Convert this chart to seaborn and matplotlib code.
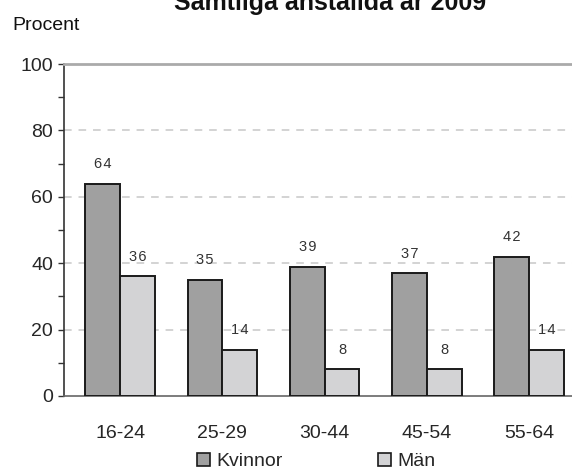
import numpy as np
import pandas as pd
import matplotlib
matplotlib.use('Agg')
import matplotlib.pyplot as plt
import seaborn as sns
from matplotlib.patches import Patch

# data
ages = ['16-24', '25-29', '30-44', '45-54', '55-64']
kvinnor = [64, 35, 39, 37, 42]
man = [36, 14, 8, 8, 14]
series = ['Kvinnor', 'Män']
colors = ['#a0a0a0', '#d3d3d5']

df = pd.DataFrame({
    'Ålder': ages * 2,
    'Procent': kvinnor + man,
    'Kön': ['Kvinnor'] * len(ages) + ['Män'] * len(ages),
})

sns.set_style('white')
plt.rcParams['font.family'] = ['Liberation Sans', 'DejaVu Sans']

fig = plt.figure(figsize=(5.72, 4.71), dpi=100)
ax = fig.add_axes([64 / 572, 75 / 471, 1 - 64 / 572, 332 / 471])

sns.barplot(data=df, x='Ålder', y='Procent', hue='Kön', hue_order=series,
            palette=colors, width=0.68, edgecolor='#1a1a1a', linewidth=1.4,
            saturation=1, legend=False, ax=ax, zorder=3)

# värden ovanför staplarna (lite glesare teckenavstånd)
for cont in ax.containers:
    ax.bar_label(cont, labels=['\u200a'.join(f'{v:.0f}') for v in cont.datavalues],
                 padding=9, fontsize=10.5, color='#333333')

ax.set_xlim(-0.55, 4.42)
ax.set_ylim(0, 100)
ax.set_yticks(range(0, 101, 20))
ax.set_yticks(range(10, 100, 20), minor=True)
ax.tick_params(axis='y', which='both', direction='out', length=4, width=1,
               color='#333333', labelsize=14, left=True, pad=4)
ax.tick_params(axis='x', length=0, labelsize=14, pad=21)
ax.set_xlabel('')
ax.set_ylabel('')

for y in [20, 40, 60, 80]:
    ax.axhline(y, color='#c8c8c8', lw=1.1, ls=(0, (5, 4.5)), zorder=1)

ax.spines['right'].set_visible(False)
ax.spines['top'].set_color('#aaaaaa')
ax.spines['top'].set_linewidth(2)
ax.spines['left'].set_color('#333333')
ax.spines['left'].set_linewidth(1.2)
ax.spines['bottom'].set_color('#666666')
ax.spines['bottom'].set_linewidth(1.2)

fig.text(0.577, 1 - 10 / 471, 'Samtliga anställda år 2009', ha='center',
         va='baseline', fontsize=18, fontweight='bold', color='#111111')
fig.text(12 / 572, 1 - 30 / 471, 'Procent', ha='left', va='baseline',
         fontsize=14, color='#111111')

handles = [Patch(facecolor=c, edgecolor='#1a1a1a', linewidth=1.2) for c in colors]
fig.legend(handles, series, loc='center', bbox_to_anchor=(0.553, 0.02), ncol=2,
           frameon=False, fontsize=14, handlelength=0.65, handleheight=0.65,
           handletextpad=0.35, columnspacing=4.9)

fig.savefig('out.png', dpi=100)
